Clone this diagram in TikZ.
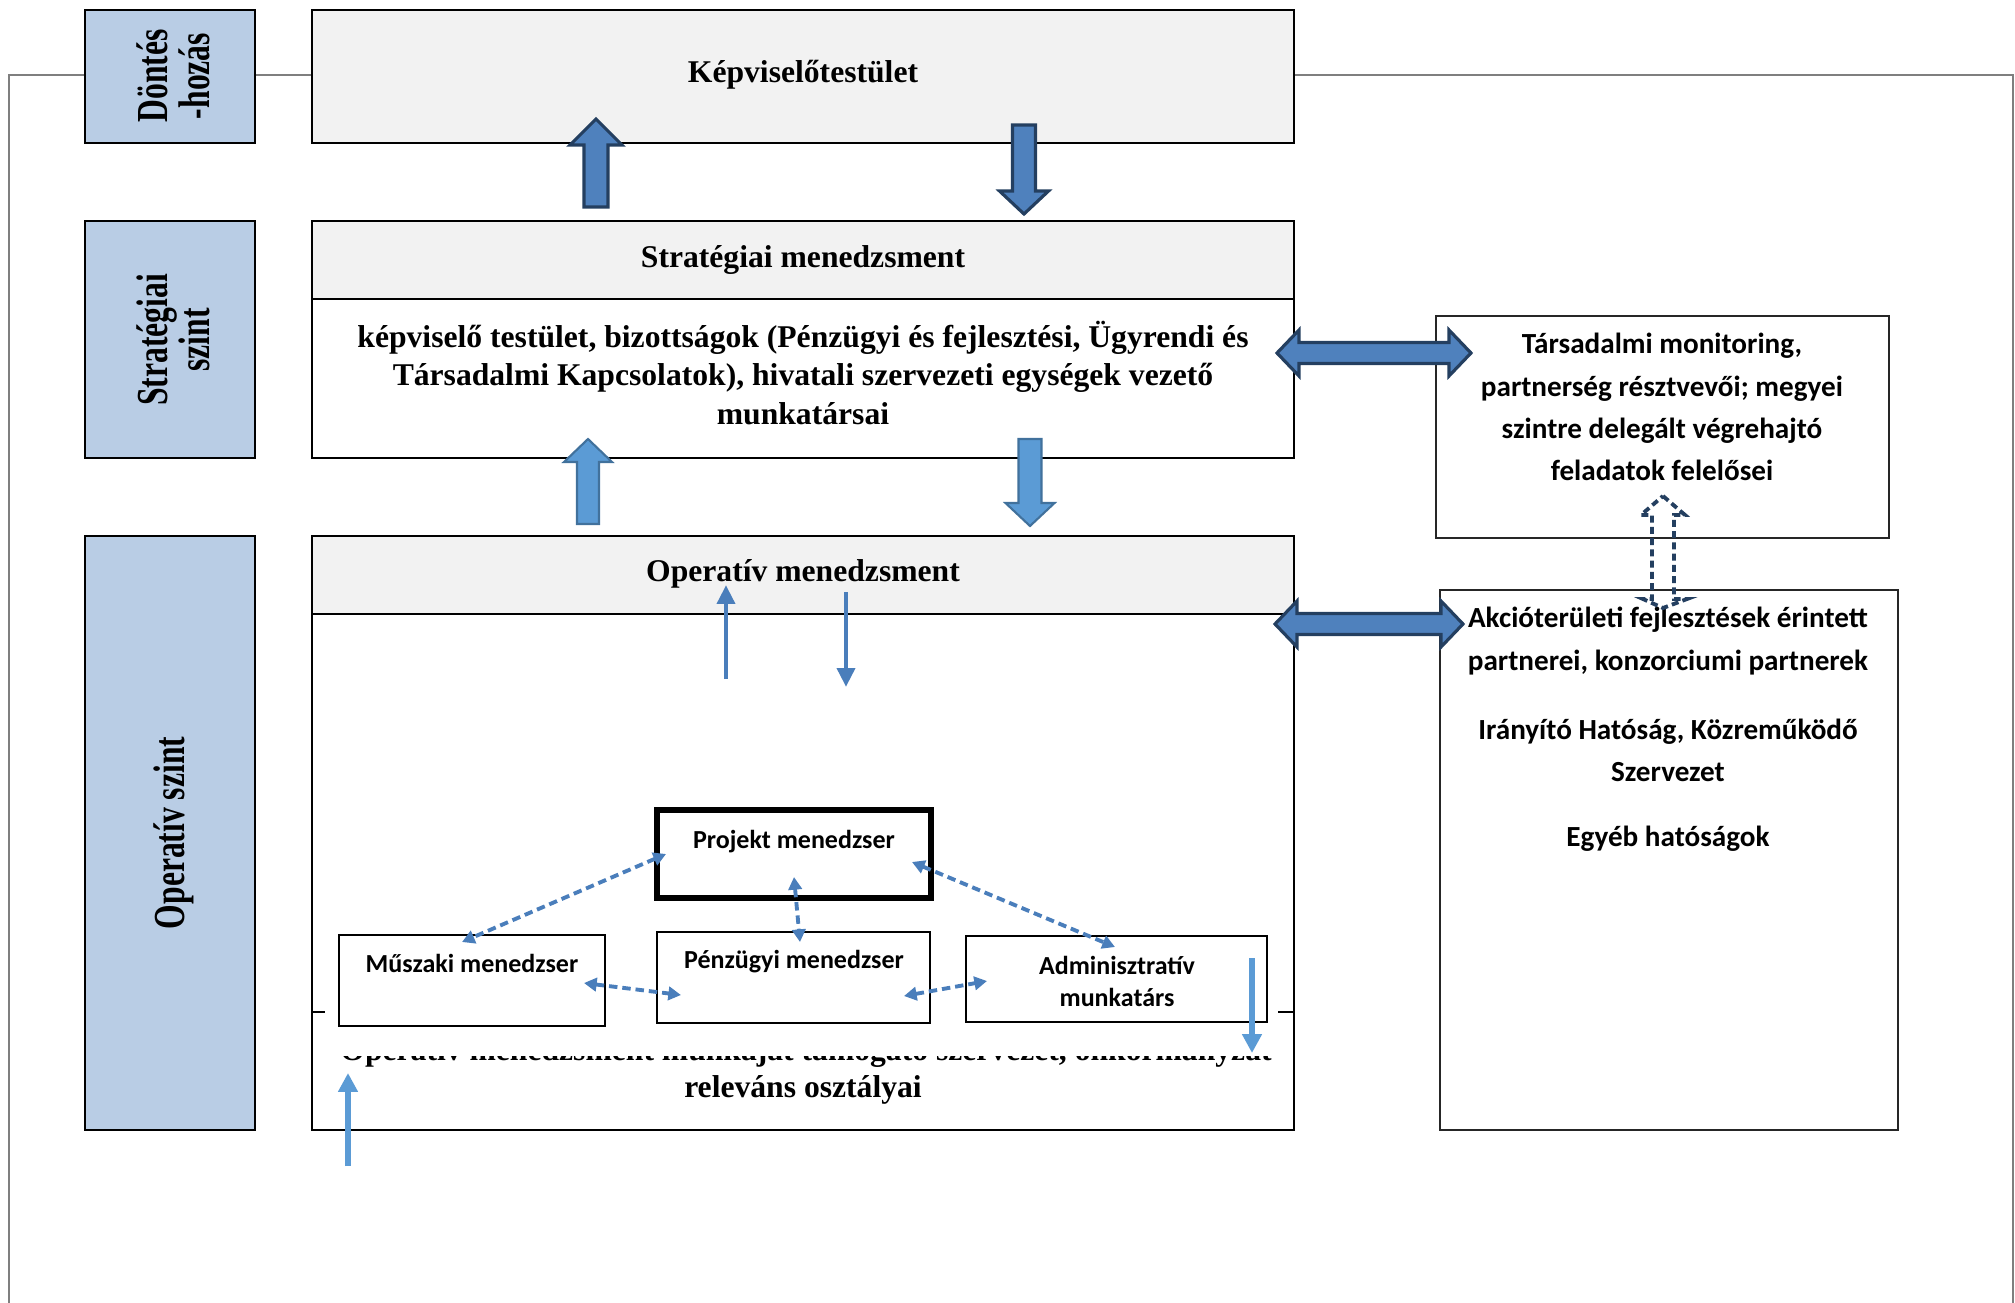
\documentclass[tikz,border=0pt]{standalone}
\usepackage{fontspec}
\setmainfont{Liberation Serif}
\newfontfamily\calib{Carlito}
\newfontfamily\tallserif{Liberation Serif}[FakeStretch=0.714]
\usetikzlibrary{arrows.meta}
\definecolor{lvlblue}{HTML}{B9CDE5}
\definecolor{hdrgray}{HTML}{F2F2F2}
\definecolor{darkfill}{HTML}{4F81BD}
\definecolor{darkedge}{HTML}{243F60}
\definecolor{lightfill}{HTML}{5B9BD5}
\definecolor{lightedge}{HTML}{41719C}
\definecolor{linkblue}{HTML}{4A7EBB}
\definecolor{framegray}{HTML}{7F7F7F}
\newcommand{\vblock}[7]{\draw[#1] (#2-#6,#3) -- (#2-#6,#4) -- (#2-#7,#4) -- (#2,#5) -- (#2+#7,#4) -- (#2+#6,#4) -- (#2+#6,#3) -- cycle;}
\newcommand{\hdouble}[7]{\draw[#1] (#2,#4) -- (#2+#5,#4-#7) -- (#2+#5,#4-#6) -- (#3-#5,#4-#6) -- (#3-#5,#4-#7) -- (#3,#4) -- (#3-#5,#4+#7) -- (#3-#5,#4+#6) -- (#2+#5,#4+#6) -- (#2+#5,#4+#7) -- cycle;}
\tikzset{
  lvlbox/.style={draw, fill=lvlblue, line width=0.7pt},
  hdrbox/.style={draw, fill=hdrgray, line width=0.7pt},
  plainbox/.style={draw, line width=0.7pt},
  sidebox/.style={draw=black!85, line width=0.4pt},
  sertext/.style={font=\bfseries\fontsize{9}{11}\selectfont, align=center, inner sep=0pt},
  rottext/.style={font=\tallserif\bfseries\fontsize{12.6}{12}\selectfont, align=center, inner sep=0pt, rotate=90},
  santext/.style={font=\calib\bfseries\fontsize{8.3}{12}\selectfont, align=center, inner sep=0pt},
  smalltext/.style={font=\calib\bfseries\fontsize{7.4}{9.1}\selectfont, align=center, inner sep=0pt},
  darkarr/.style={fill=darkfill, draw=darkedge, line width=0.9pt},
  lightarr/.style={fill=lightfill, draw=lightedge, line width=0.6pt},
  hollowarr/.style={draw=darkedge, line width=1.1pt, dash pattern=on 2pt off 1.2pt},
  thinarr/.style={draw=linkblue, line width=1.4pt, -{Triangle[length=5.4pt,width=5pt]}},
  thinarrl/.style={draw=lightfill, line width=1.6pt, -{Triangle[length=5.4pt,width=5.4pt]}},
  dlink/.style={draw=linkblue, line width=1.1pt, dash pattern=on 2.4pt off 1.4pt,
    {Triangle[length=3.6pt,width=3.8pt]}-{Triangle[length=3.6pt,width=3.8pt]}}
}
\begin{document}
\begin{tikzpicture}[x=0.1mm,y=-0.1mm]
        \useasboundingbox (0,0) rectangle (2015,1303);
        \draw[framegray, line width=0.45pt] (9,1303) -- (9,75) -- (2013,75) -- (2013,1303);

        % szintek
        \draw[lvlbox] (85,10) rectangle (255,143);
        \draw[lvlbox] (85,221) rectangle (255,458);
        \draw[lvlbox] (85,536) rectangle (255,1130);
        \node[rottext] (dontes) at (173,76) {Döntés\\-hozás};
        \node[rottext] (strat) at (173,340) {Stratégiai\\szint};
        \node[rottext] (oper) at (174,833) {Operatív szint};

        % középső oszlop
        \draw[hdrbox] (312,10) rectangle (1294,143);
        \draw[hdrbox] (312,221) rectangle (1294,299);
        \draw[plainbox] (312,299) rectangle (1294,458);
        \draw[hdrbox] (312,536) rectangle (1294,614);
        \draw[plainbox] (312,614) rectangle (1294,1130);
        \draw[plainbox] (312,1012) -- (325,1012);
        \draw[plainbox] (1278,1012) -- (1294,1012);
        \node[sertext] (kep) at (803,75) {Képviselőtestület};
        \node[sertext] (stratmen) at (803,260) {Stratégiai menedzsment};
        \node[sertext] (stratbody) at (803,373) {képviselő testület, bizottságok (Pénzügyi és fejlesztési, Ügyrendi és\\Társadalmi Kapcsolatok), hivatali szervezeti egységek vezető\\munkatársai};
        \node[sertext] (opmen) at (803,574) {Operatív menedzsment};
        \node[sertext, anchor=base] (opbody) at (806,1060) {Operatív menedzsment munkáját támogató szervezet, önkormányzat};
        \fill[white] (322,1028) rectangle (1280,1056);
        \node[sertext, anchor=base] (opbody2) at (803,1097) {releváns osztályai};

        % projekt csapat
        \draw[plainbox, line width=1.5pt] (657,810) rectangle (931,898);
        \draw[plainbox] (339,935) rectangle (605,1026);
        \draw[plainbox] (657,932) rectangle (930,1023);
        \draw[plainbox] (966,936) rectangle (1267,1022);
        \node[smalltext] (pm) at (794,842) {Projekt menedzser};
        \node[smalltext] (mm) at (472,963) {Műszaki menedzser};
        \node[smalltext] (fm) at (794,962) {Pénzügyi menedzser};
        \node[smalltext] (am) at (1117,981) {Adminisztratív\\munkatárs};

        % jobb oldal
        \draw[sidebox] (1436,316) rectangle (1889,538);
        \draw[sidebox] (1440,590) rectangle (1898,1130);
        \node[santext] (tars) at (1662,407) {Társadalmi monitoring,\\partnerség résztvevői; megyei\\szintre delegált végrehajtó\\feladatok felelősei};
        \node[santext] (akc) at (1668,641) {Akcióterületi fejlesztések érintett\\partnerei, konzorciumi partnerek};
        \node[santext] (ih) at (1668,750) {Irányító Hatóság, Közreműködő\\Szervezet};
        \node[santext] (egyeb) at (1668,839) {Egyéb hatóságok};

        % nyilak
        \vblock{darkarr}{596}{207}{145}{119}{12}{26}
        \vblock{darkarr}{1024}{125}{191}{214}{11.5}{24.5}
        \vblock{lightarr}{588}{524}{462}{439}{11}{24}
        \vblock{lightarr}{1030}{439}{503}{526}{11.5}{24.5}
        \hdouble{darkarr}{1277}{1471}{353}{22}{10.5}{23}
        \hdouble{darkarr}{1275}{1463}{624}{22}{10.5}{23}
        \draw[hollowarr] (1663,496) -- (1685,515) -- (1674,515) -- (1674,599) -- (1687,599) -- (1663,608)
          -- (1643,599) -- (1652,599) -- (1652,515) -- (1641,515) -- cycle;

        \coordinate (opup1) at (726,679);
        \coordinate (opup2) at (726,585);
        \coordinate (opdn1) at (846,592);
        \coordinate (opdn2) at (846,687);
        \coordinate (botup1) at (348,1166);
        \coordinate (botup2) at (348,1073);
        \coordinate (amdn1) at (1252,958);
        \coordinate (amdn2) at (1252,1053);
        \draw[thinarr] (opup1) -- (opup2);
        \draw[thinarr] (opdn1) -- (opdn2);
        \draw[thinarrl] (botup1) -- (botup2);
        \draw[thinarrl] (amdn1) -- (amdn2);

        \coordinate (pmW) at (666,854);
        \coordinate (pmS) at (794,877);
        \coordinate (pmE) at (912,862);
        \coordinate (mmN) at (462,942);
        \coordinate (mmE) at (584,983);
        \coordinate (fmN) at (800,942);
        \coordinate (fmW) at (681,995);
        \coordinate (fmE) at (904,996);
        \coordinate (amN) at (1115,947);
        \coordinate (amW) at (987,981);
        \draw[dlink] (pmW) -- (mmN);
        \draw[dlink] (pmS) -- (fmN);
        \draw[dlink] (pmE) -- (amN);
        \draw[dlink] (mmE) -- (fmW);
        \draw[dlink] (fmE) -- (amW);
\end{tikzpicture}
\end{document}
